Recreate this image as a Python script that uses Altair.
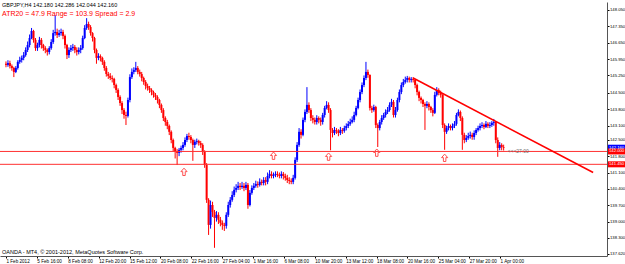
import altair as alt
import pandas as pd

first_open = 145.75
closes = [
145.70,145.78,145.65,145.57,145.40,145.57,145.83,145.91,146.00,146.12,
146.34,146.55,146.85,147.15,146.77,146.42,146.55,146.77,146.55,146.42,
146.34,146.25,146.42,146.68,147.06,147.11,146.98,147.06,147.11,146.94,
146.55,146.12,146.34,146.42,146.47,146.34,146.25,146.34,146.42,146.85,
147.28,147.45,147.32,147.06,146.85,146.34,146.00,146.08,146.00,145.83,
145.57,145.31,145.23,145.14,145.10,144.84,144.63,144.33,144.07,143.77,
143.56,143.52,144.20,145.18,145.40,145.48,145.57,145.40,145.31,145.14,
144.97,144.80,144.71,144.63,144.54,144.42,144.33,144.20,143.99,143.77,
143.43,143.26,143.09,142.84,142.49,142.15,141.98,141.94,142.07,142.15,
142.28,142.49,142.66,142.62,142.49,142.28,142.41,142.45,142.36,142.28,
141.98,141.42,139.93,138.86,139.71,139.41,139.16,139.29,139.08,138.95,
138.86,138.82,139.29,139.71,139.93,140.14,140.36,140.44,140.53,140.48,
140.53,140.44,140.57,139.71,140.23,140.44,140.53,140.61,140.57,140.70,
140.65,140.78,140.70,140.95,141.04,140.95,140.99,141.04,140.99,140.95,
141.04,140.95,140.87,140.78,140.74,140.70,140.87,141.64,142.28,142.84,
142.71,143.35,143.69,143.99,143.77,143.43,143.35,143.26,143.43,143.35,
143.26,143.56,143.86,143.99,143.77,142.92,142.79,142.92,142.88,142.79,
142.92,142.88,143.00,143.09,143.18,143.26,143.35,143.56,143.86,144.20,
144.54,144.84,145.14,145.40,145.27,143.86,143.77,143.90,143.13,143.00,
143.26,143.43,143.56,143.69,143.77,143.99,144.12,143.56,143.77,144.20,
144.54,144.84,144.97,145.06,145.14,145.06,145.10,145.06,144.84,144.54,
144.29,144.20,144.03,143.95,144.03,143.90,143.77,143.65,144.42,144.63,
144.50,144.42,143.13,142.84,143.00,143.09,143.00,143.09,143.18,143.56,
143.69,143.43,142.71,142.49,142.58,142.66,142.71,142.62,142.79,142.92,
143.00,143.09,143.13,143.05,143.18,143.09,143.13,143.22,143.26,142.49,
142.15,142.28,142.19,142.16]

highs = [
145.85,145.90,145.88,145.72,145.62,145.65,145.90,146.05,146.10,146.25,
146.45,146.70,147.00,147.28,147.20,146.85,146.65,146.90,146.85,146.60,
146.50,146.40,146.50,146.80,147.20,147.83,147.25,147.20,147.25,147.20,
147.00,146.60,146.45,146.55,146.60,146.55,146.45,146.45,146.55,146.95,
147.40,147.70,147.55,147.40,147.10,146.90,146.40,146.20,146.15,146.05,
145.90,145.65,145.40,145.35,145.25,145.15,144.90,144.70,144.40,144.15,
143.85,143.70,144.30,145.30,145.55,145.60,145.83,145.65,145.50,145.40,
145.20,145.05,144.90,144.80,144.70,144.60,144.50,144.40,144.25,144.05,
143.85,143.50,143.35,143.15,142.90,142.55,142.20,142.10,142.15,142.25,
142.40,142.60,142.75,142.80,142.70,142.55,142.50,142.55,142.50,142.45,
142.35,142.05,141.50,140.00,139.90,139.85,139.50,139.45,139.40,139.20,
139.05,138.95,139.40,139.85,140.05,140.30,140.50,140.60,140.70,140.65,
140.70,140.65,140.70,140.65,140.35,140.55,140.65,140.75,140.72,140.85,
140.80,140.90,140.90,141.10,141.20,141.15,141.10,141.15,141.15,141.10,
141.15,141.12,141.05,141.00,140.90,140.85,141.00,141.75,142.40,143.00,
142.95,143.45,143.80,144.75,144.10,143.85,143.55,143.45,143.55,143.50,
143.45,143.65,143.95,144.15,144.10,143.85,143.00,143.05,143.00,142.95,
143.05,143.00,143.10,143.20,143.30,143.40,143.50,143.70,143.95,144.30,
144.65,144.95,145.25,145.83,145.50,145.30,143.95,144.00,143.95,143.20,
143.35,143.55,143.65,143.80,143.90,144.10,144.25,144.20,143.90,144.30,
144.65,144.95,145.10,145.20,145.23,145.20,145.18,145.18,145.10,144.90,
144.60,144.35,144.25,144.10,144.15,144.10,143.95,143.85,144.55,144.75,
144.70,144.60,144.45,143.20,143.10,143.20,143.15,143.20,143.30,143.65,
143.80,143.75,143.50,142.80,142.70,142.80,142.85,142.80,142.90,143.00,
143.10,143.20,143.25,143.20,143.30,143.25,143.25,143.30,143.39,143.30,
142.60,142.40,142.35,142.29]

lows = [
145.60,145.62,145.55,145.45,145.18,145.35,145.50,145.75,145.80,145.90,
146.05,146.25,146.45,146.80,146.65,146.30,146.30,146.45,146.40,146.30,
146.20,146.10,146.15,146.35,146.60,146.95,146.85,146.90,146.95,146.80,
146.40,145.95,146.00,146.25,146.30,146.20,146.10,146.15,146.20,146.35,
146.80,147.20,147.20,146.95,146.70,146.20,145.75,145.90,145.85,145.70,
145.45,145.20,145.10,145.05,144.95,144.70,144.50,144.20,143.95,143.60,
143.40,143.13,143.45,144.10,145.10,145.30,145.40,145.30,145.20,145.00,
144.85,144.65,144.60,144.50,144.40,144.30,144.20,144.05,143.85,143.65,
143.30,143.10,142.95,142.70,142.35,142.00,141.70,141.42,141.80,141.95,
142.05,142.20,142.40,142.50,142.35,141.60,142.15,142.30,142.25,142.15,
141.85,141.30,139.80,138.43,138.70,139.20,137.88,139.00,138.90,138.80,
138.65,138.60,138.70,139.20,139.60,139.85,140.05,140.25,140.35,140.35,
140.40,140.30,140.35,139.55,139.65,140.15,140.35,140.45,140.45,140.50,
140.55,140.55,140.55,140.60,140.85,140.85,140.85,140.90,140.90,140.85,
140.85,140.80,140.75,140.65,140.60,140.60,140.60,140.80,141.55,142.20,
142.55,142.65,143.25,143.60,143.65,143.30,143.20,143.15,143.15,143.20,
143.10,143.15,143.45,143.80,143.65,142.05,142.60,142.70,142.75,142.65,
142.70,142.75,142.80,142.90,143.00,143.10,143.20,143.25,143.50,143.80,
144.10,144.45,144.75,145.05,145.15,143.75,143.65,143.70,143.00,142.19,
142.90,143.15,143.35,143.45,143.60,143.70,143.90,143.45,143.45,143.70,
144.10,144.45,144.75,144.90,144.95,144.95,144.95,144.95,144.70,144.40,
144.15,144.05,143.90,142.92,143.85,143.75,143.65,143.50,143.60,144.35,
144.40,144.30,143.00,142.07,142.75,142.90,142.90,142.90,143.00,143.10,
143.50,143.30,142.07,142.35,142.40,142.50,142.55,142.50,142.50,142.70,
142.85,142.90,143.00,142.95,143.00,143.00,143.00,143.05,143.10,142.35,
141.77,142.05,142.05,142.04]

x_labels = ["1 Feb 2012", "5 Feb 16:00", "8 Feb 08:00", "12 Feb 20:00", "15 Feb 12:00",
            "20 Feb 08:00", "22 Feb 16:00", "27 Feb 04:00", "1 Mar 16:00", "6 Mar 08:00",
            "10 Mar 20:00", "13 Mar 12:00", "18 Mar 08:00", "20 Mar 16:00", "25 Mar 04:00",
            "27 Mar 20:00", "1 Apr 00:00"]
y_ticks = [148.05, 147.35, 146.65, 145.95, 145.25, 144.50, 143.80, 143.10, 142.50,
           141.80, 141.10, 140.40, 139.70, 139.00, 138.30, 137.62]

level_prices = [142.00, 141.45]
trend_x = [207, 298.5]
trend_p = [145.14, 141.10]
arrow_x = [90.5, 136, 164, 188.5, 223]
arrow_p = [141.12, 141.81, 141.77, 141.94, 141.72]
box_p = [142.16, 142.00, 141.45]
box_text = ["142.160", "142.000", "141.450"]
box_kind = ["bid", "level", "level"]

header = "GBPJPY,H4  142.180 142.286 142.044 142.160"
atr_text = "ATR20 = 47.9 Range = 103.9 Spread = 2.9"
copyright_text = "OANDA - MT4, © 2001-2012, MetaQuotes Software Corp."
timer_text = "<<<27:00"

n = min(len(closes), len(highs), len(lows))
opens = [first_open] + closes[:n - 1]
df = pd.DataFrame({
    "i": list(range(n)),
    "open": opens[:n], "close": closes[:n], "high": highs[:n], "low": lows[:n],
})
df["dir"] = ["up" if c >= o else "down" for o, c in zip(df["open"], df["close"])]

W, H = 607, 254
xs = alt.Scale(domain=[-0.5, 303], nice=False, zero=False)
ys = alt.Scale(domain=[137.53, 148.39], nice=False, zero=False)
col = alt.Color("dir:N", scale=alt.Scale(domain=["up", "down"], range=["#0000ff", "#ff0000"]), legend=None)

label_expr = "[" + ",".join("'" + s + "'" for s in x_labels) + "][round(datum.value/15.7)]"
x_axis = alt.Axis(values=[15.7 * k for k in range(len(x_labels))], labelExpr=label_expr,
                  labelAlign="left", labelFontSize=4.6, labelFont="Liberation Sans", labelColor="#000",
                  tickSize=2, tickColor="#000", domainColor="#555", labelPadding=0,
                  grid=False, title=None, labelOverlap=False, labelFlush=False)
y_axis = alt.Axis(values=y_ticks, format=".3f", orient="right", labelFontSize=4.2,
                  labelFont="Liberation Sans", labelColor="#000", tickSize=2, tickColor="#000",
                  domainColor="#555", labelPadding=0.5, grid=False, title=None, labelOverlap=False,
                  labelFlush=False)


def X(field):
    return alt.X(field, scale=xs, axis=x_axis)


def Y(field):
    return alt.Y(field, scale=ys, axis=y_axis)


base = alt.Chart(df)
wicks = base.mark_rule(strokeWidth=1).encode(x=X("i:Q"), y=Y("low:Q"), y2="high:Q", color=col)
bodies = base.mark_bar(size=2).encode(x=X("i:Q"), y=Y("open:Q"), y2="close:Q", color=col)

levels = alt.Chart(pd.DataFrame({"p": level_prices})).mark_rule(color="#ff3030", strokeWidth=1).encode(
    y=Y("p:Q"), x=alt.value(0), x2=alt.value(W))

trend = alt.Chart(pd.DataFrame({"x": trend_x, "p": trend_p})).mark_line(color="#ff0000", strokeWidth=1.6).encode(
    x=X("x:Q"), y=Y("p:Q"))

arrow_path = "M0,-1L0.8,-0.1L0.32,-0.1L0.32,0.9L-0.32,0.9L-0.32,-0.1L-0.8,-0.1Z"
arrows = alt.Chart(pd.DataFrame({"x": arrow_x, "p": arrow_p})).mark_point(
    shape=arrow_path, filled=False, stroke="#ff5050", strokeWidth=1, size=60, opacity=1).encode(
    x=X("x:Q"), y=Y("p:Q"))

bdf = pd.DataFrame({"p": box_p, "t": box_text, "k": box_kind})
boxes = alt.Chart(bdf).mark_rule(strokeWidth=6, strokeCap="butt").encode(
    y=Y("p:Q"), x=alt.value(W + 1), x2=alt.value(625),
    color=alt.Color("k:N", scale=alt.Scale(domain=["bid", "level"], range=["#000000", "#ff0000"]), legend=None))
box_txt = alt.Chart(bdf).mark_text(align="left", baseline="middle", fontSize=4.2, font="Liberation Sans",
                                   color="#ffffff").encode(
    y=Y("p:Q"), x=alt.value(W + 2), text="t:N")

timer = alt.Chart(pd.DataFrame({"x": [255], "p": [level_prices[0]], "t": [timer_text]})).mark_text(
    align="left", baseline="middle", fontSize=5, font="Liberation Sans", color="#707070").encode(
    x=X("x:Q"), y=Y("p:Q"), text="t:N")

hdr = alt.Chart(pd.DataFrame({"t": [header]})).mark_text(
    align="left", baseline="middle", fontSize=5.5, font="Liberation Sans", color="#000").encode(
    x=alt.value(2), y=alt.value(3), text="t:N")
atr = alt.Chart(pd.DataFrame({"t": [atr_text]})).mark_text(
    align="left", baseline="middle", fontSize=7, font="Liberation Sans", color="#ff0000").encode(
    x=alt.value(2), y=alt.value(11.5), text="t:N")
copy = alt.Chart(pd.DataFrame({"t": [copyright_text]})).mark_text(
    align="left", baseline="middle", fontSize=5.5, font="Liberation Sans", color="#000").encode(
    x=alt.value(2), y=alt.value(250), text="t:N")

chart = alt.layer(wicks, bodies, levels, trend, arrows, timer, boxes, box_txt, hdr, atr, copy).properties(
    width=W, height=H, autosize=alt.AutoSizeParams(type="none"),
    padding={"left": 0, "top": 2, "right": 18, "bottom": 8}, background="#ffffff"
).configure_view(stroke=None)

chart.save("out.html", embed_options={"renderer": "svg", "actions": False})
